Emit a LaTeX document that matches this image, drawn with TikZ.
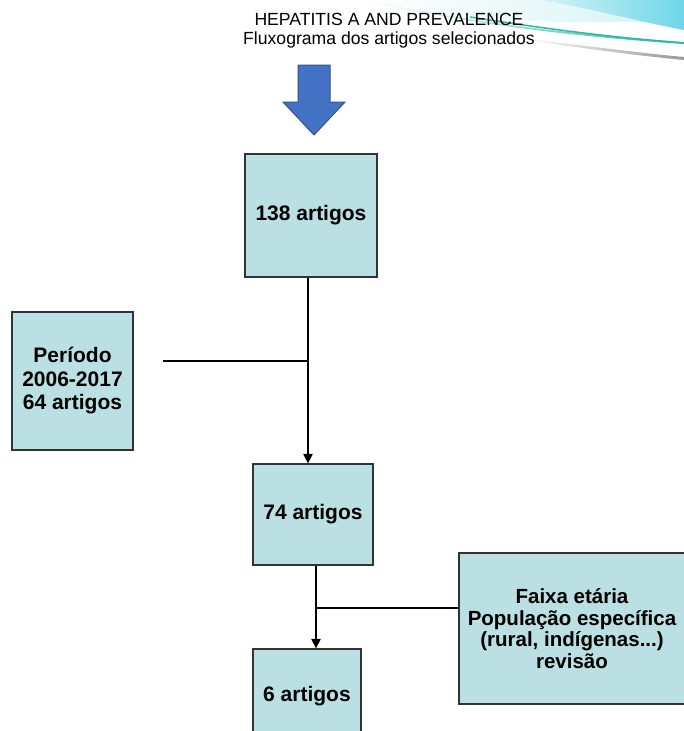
\documentclass[tikz,border=0pt]{standalone}
\usepackage{fontspec}
\setmainfont{Liberation Sans}
\usetikzlibrary{arrows.meta}
\definecolor{boxfill}{HTML}{BBE0E3}
\definecolor{boxline}{HTML}{333333}
\definecolor{bluearrow}{HTML}{4472C4}
\definecolor{bluearrowline}{HTML}{2F528F}
\definecolor{swcyan}{HTML}{6FD6E8}
\definecolor{swlight}{HTML}{D6F3F7}
\definecolor{swteal}{HTML}{2CB8A2}
\tikzset{
  flowbox/.style={draw=boxline, line width=1.3pt, fill=boxfill, inner sep=0pt, align=center,
    font=\fontsize{21}{23.5}\selectfont\bfseries},
  conn/.style={line width=1.2pt, black},
  arr/.style={conn, -{Triangle[length=9.5pt,width=9.5pt]}},
  titletext/.style={anchor=base, font=\fontsize{17.6}{19}\selectfont, inner sep=0pt}
}
\begin{document}
\begin{tikzpicture}[x=1pt,y=-1pt]
\useasboundingbox (0,0) rectangle (684,731);
\clip (0,0) rectangle (684,731);
% decorative swoosh
\shade[left color=white, right color=swlight] (360,0) .. controls (450,16) and (540,24) .. (600,22) -- (684,22) -- (684,0) -- cycle;
\shade[left color=swlight, right color=swcyan] (540,0) .. controls (590,8) and (640,22) .. (684,30) -- (684,0) -- cycle;
\shade[left color=white, right color=swteal] (365,0) .. controls (450,18) and (550,33) .. (684,42) -- (684,44) .. controls (550,35) and (450,20) .. (362,0) -- cycle;
\draw[swteal, line width=1.5pt] (470,17) .. controls (560,31) and (620,38) .. (684,43);
\shade[left color=white, right color=gray!80] (520,38) .. controls (580,45) and (640,53) .. (684,57) -- (684,60) .. controls (640,56) and (580,48) .. (520,39) -- cycle;
% title
\node[titletext] (t1) at (389,25) {HEPATITIS A AND PREVALENCE};
\node[titletext] (t2) at (389,44) {Fluxograma dos artigos selecionados};
% blue arrow
\draw[fill=bluearrow, draw=bluearrowline, line width=1pt, line join=miter]
  (298,65) -- (330,65) -- (330,102) -- (345,102) -- (314,135) -- (283,102) -- (298,102) -- cycle;
% boxes
\node[flowbox, minimum width=132pt, minimum height=123pt] (b138) at (311,215.5) {138 artigos};
\node[flowbox, minimum width=121pt, minimum height=138pt] (per) at (72.5,381) {Período\\2006-2017\\64 artigos};
\node[flowbox, minimum width=120pt, minimum height=101pt] (b74) at (313,514.5) {74 artigos};
\node[flowbox, minimum width=108pt, minimum height=94pt] (b6) at (307,696) {6 artigos};
\node[flowbox, minimum width=226pt, minimum height=151pt, font=\fontsize{20.5}{21.7}\selectfont\bfseries] (fx) at (572,628.5)
  {Faixa etária\\População específica\\(rural, indígenas...)\\revisão};
% connectors
\coordinate (j1) at (308,361);
\coordinate (s1) at (163,361);
\coordinate (j2) at (316,608);
\draw[arr] (b138.south -| j1) -- (b74.north -| j1);
\draw[conn] (s1) -- (j1);
\draw[arr] (b74.south -| j2) -- (b6.north -| j2);
\draw[conn] (j2) -- (fx.west |- j2);
\end{tikzpicture}
\end{document}
